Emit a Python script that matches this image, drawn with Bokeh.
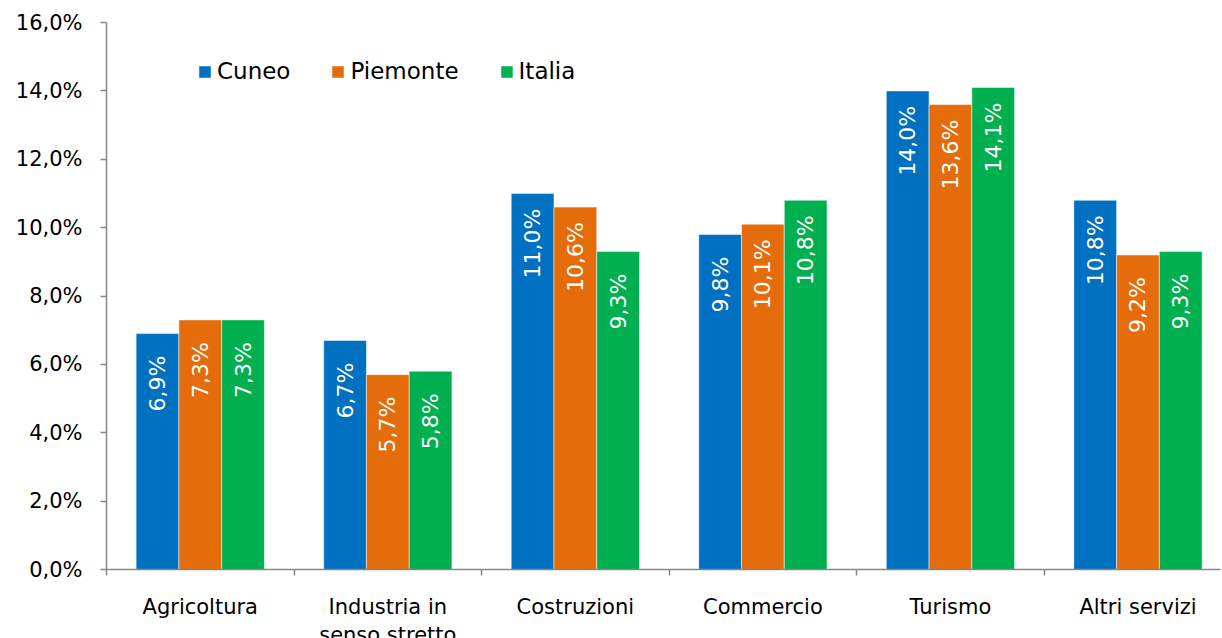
import numpy as np
from bokeh.plotting import figure
from bokeh.models import FixedTicker, Range1d, ColumnDataSource
from bokeh.core.properties import value
from bokeh.embed import file_html
from bokeh.resources import INLINE

# ---- data ----
categories = ["Agricoltura", "Industria in\nsenso stretto", "Costruzioni",
              "Commercio", "Turismo", "Altri servizi"]
series = ["Cuneo", "Piemonte", "Italia"]
cuneo = [6.9, 6.7, 11.0, 9.8, 14.0, 10.8]
piemonte = [7.3, 5.7, 10.6, 10.1, 13.6, 9.2]
italia = [7.3, 5.8, 9.3, 10.8, 14.1, 9.3]
y_ticks = [0, 2, 4, 6, 8, 10, 12, 14, 16]

colors = ["#0070C0", "#E46C0A", "#00B050"]
FONT = "DejaVu Sans"

def fmt(v):
    return f"{v:.1f}%".replace(".", ",")

p = figure(frame_width=1114, frame_height=547,
           min_border_left=106, min_border_top=22, min_border_right=2,
           min_border_bottom=40,
           x_range=Range1d(0, 5.94), y_range=Range1d(0, 16),
           output_backend="svg", toolbar_location=None)
p.outline_line_color = None
p.xgrid.visible = False
p.ygrid.visible = False

bar_w = 0.228
offsets = [-bar_w, 0.0, bar_w]
idx = np.arange(len(categories)) + 0.5
for name, vals, col, off in zip(series, [cuneo, piemonte, italia], colors, offsets):
    src = ColumnDataSource(dict(x=idx + off, top=vals,
                                label=[fmt(v) for v in vals]))
    p.vbar(x="x", top="top", width=bar_w, bottom=0, source=src,
           fill_color=col, line_color="white", line_alpha=0.5, line_width=1,
           legend_label=name)
    p.text(x="x", y="top", text="label", source=src, angle=np.pi / 2,
           text_align="center", text_baseline="middle", y_offset=50,
           text_color="white", text_font=value(FONT), text_font_size="22px")

# x axis
xa = p.xaxis[0]
xa.ticker = FixedTicker(ticks=list(idx), minor_ticks=list(range(len(categories) + 1)))
xa.major_label_overrides = {float(i): c for i, c in zip(idx, categories)}
xa.major_tick_out = 0
xa.major_tick_in = 0
xa.minor_tick_out = 6
xa.minor_tick_in = 0
xa.minor_tick_line_color = "#868686"
xa.minor_tick_line_width = 1.5
xa.axis_line_color = "#868686"
xa.axis_line_width = 1.5
xa.major_label_standoff = 19
xa.major_label_text_font = FONT
xa.major_label_text_font_size = "21px"
xa.major_label_text_color = "#000000"
xa.major_label_text_line_height = 1.2

# y axis
ya = p.yaxis[0]
ya.ticker = FixedTicker(ticks=y_ticks, minor_ticks=[])
ya.major_label_overrides = {t: fmt(t) for t in y_ticks}
ya.major_tick_out = 6
ya.major_tick_in = 0
ya.major_tick_line_color = "#868686"
ya.major_tick_line_width = 1.5
ya.axis_line_color = "#868686"
ya.axis_line_width = 1.5
ya.major_label_standoff = 18
ya.major_label_text_font = FONT
ya.major_label_text_font_size = "21px"
ya.major_label_text_color = "#000000"

# legend
lg = p.legend[0]
lg.orientation = "horizontal"
lg.location = (91, 485)
lg.padding = 0
lg.margin = 0
lg.border_line_alpha = 0
lg.background_fill_alpha = 0
lg.glyph_width = 15
lg.glyph_height = 15
lg.label_standoff = 5
lg.spacing = 40
lg.label_text_font = FONT
lg.label_text_font_size = "23px"
lg.label_text_color = "#000000"
lg.label_height = 15

open("out.html", "w").write(file_html(p, INLINE))
